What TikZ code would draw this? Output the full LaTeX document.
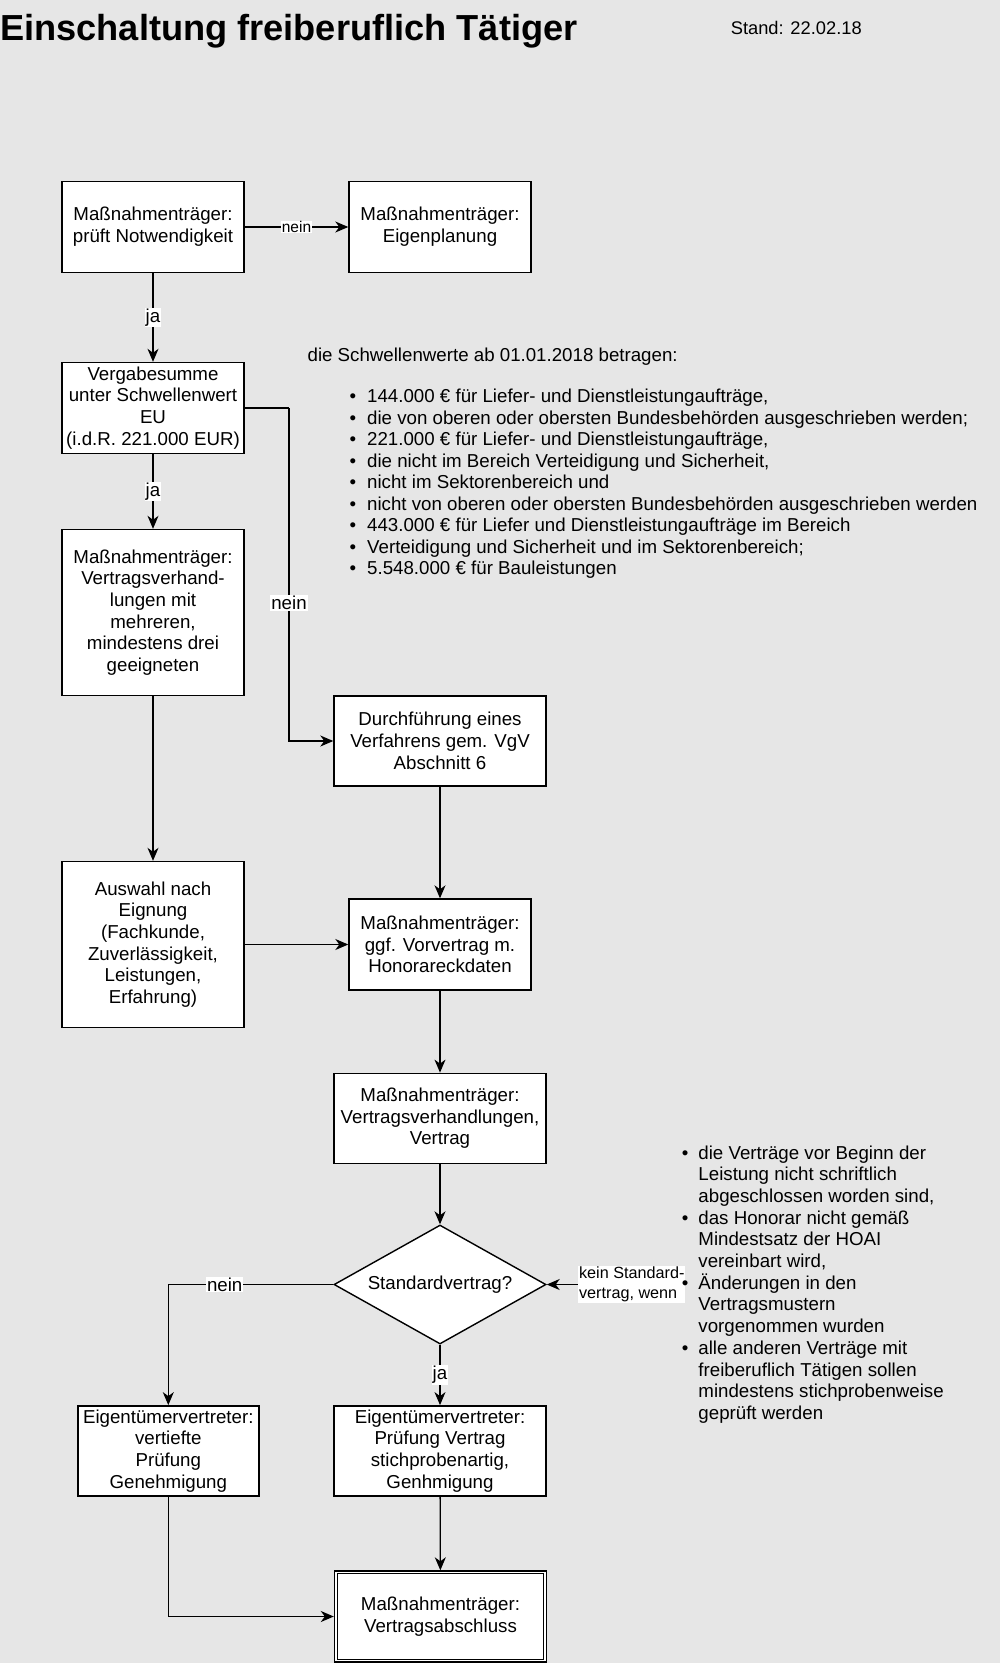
\documentclass[tikz,border=0pt]{standalone}
\usepackage{fontspec}
\setmainfont{Liberation Sans}
\usetikzlibrary{arrows.meta,shapes.geometric,calc}
\definecolor{bgcol}{RGB}{230,230,230}
\pgfdeclarelayer{bottom}
\pgfdeclarelayer{back}
\pgfsetlayers{bottom,back,main}
\newcommand\bodyfont{\fontsize{18.7}{21.7}\selectfont}
\newcommand\lblfont{\fontsize{15.5}{19.5}\selectfont}
\newcommand\bitemA[1]{\hbox{\makebox[17.5pt][l]{\textbullet}#1}}
\newcommand\bitemB[1]{\hbox{\makebox[16.5pt][l]{\textbullet}#1}}
\newcommand\citemB[1]{\hbox{\hspace*{16.5pt}#1}}
\begin{document}
\begin{tikzpicture}[x=1pt,y=-1pt,
  box/.style={draw, line width=1.4pt, fill=white, align=center, inner sep=2pt,
    font=\bodyfont, minimum width=182pt, minimum height=91pt},
  wbox/.style={box, minimum width=212pt, minimum height=90pt},
  arr/.style={line width=1.3pt, -{Stealth[length=13pt, width=11pt, inset=4pt]}},
  conn/.style={line width=1.3pt},
  lbl/.style={fill=white, inner sep=1pt, font=\bodyfont},
  lbls/.style={fill=white, inner sep=0.5pt, font=\lblfont, align=center},
  lblk/.style={fill=white, inner sep=1pt, font=\fontsize{16.2}{19.6}\selectfont, align=left},
  plain/.style={anchor=base west, inner sep=0pt, font=\bodyfont}]
\useasboundingbox (0,0) rectangle (1000,1663);
\begin{pgfonlayer}{bottom}
\fill[bgcol] (0,0) rectangle (1000,1663);
\end{pgfonlayer}

% header
\node[anchor=base west, inner sep=0pt, font=\fontsize{36.2}{40}\selectfont\bfseries] (title) at (0,40) {Einschaltung freiberuflich Tätiger};
\node[anchor=base west, inner sep=0pt, font=\fontsize{18.3}{21}\selectfont] (stand) at (730.6,34.5) {Stand: 22.02.18};

% boxes
\node[box] (b1) at (153,227) {Maßnahmenträger:\\prüft Notwendigkeit};
\node[box] (b2) at (440,227) {Maßnahmenträger:\\Eigenplanung};
\node[box] (b3) at (153,408) {Vergabesumme\\unter Schwellenwert\\EU\\(i.d.R. 221.000 EUR)};
\node[box, minimum height=166pt] (b4) at (153,612.5) {Maßnahmenträger:\\Vertragsverhand-\\lungen mit\\mehreren,\\mindestens drei\\geeigneten};
\node[wbox] (b5) at (440,741) {Durchführung eines\\Verfahrens gem. VgV\\Abschnitt 6};
\node[box, minimum height=166pt] (b6) at (153,944.5) {Auswahl nach\\Eignung\\(Fachkunde,\\Zuverlässigkeit,\\Leistungen,\\Erfahrung)};
\node[box] (b7) at (440,944.5) {Maßnahmenträger:\\ggf. Vorvertrag m.\\Honorareckdaten};
\node[wbox] (b8) at (440,1118.3) {Maßnahmenträger:\\Vertragsverhandlungen,\\Vertrag};
\node[diamond, draw, fill=white, line width=1.4pt, minimum width=212pt, minimum height=119pt,
  inner sep=0pt, shape aspect=1.78, font=\bodyfont] (d) at (440,1284.5) {Standardvertrag?};
\node[box, minimum width=181pt, minimum height=90pt] (b9) at (168.3,1450.8) {Eigentümervertreter:\\vertiefte\\Prüfung\\Genehmigung};
\node[wbox] (b10) at (440,1450.8) {Eigentümervertreter:\\Prüfung Vertrag\\stichprobenartig,\\Genhmigung};
\node[wbox, minimum height=91pt] (b11) at (440.5,1616.5) {Maßnahmenträger:\\Vertragsabschluss};
\draw[line width=1.2pt] ($(b11.north west)+(3.5,3.5)$) rectangle ($(b11.south east)+(-3.5,-3.5)$);

% text blocks
\node[plain] (list1h) at (307.4,361.7) {die Schwellenwerte ab 01.01.2018 betragen:};
\begin{scope}
\clip (0,0) rectangle (975,1663);
\node[plain] (list1) at (349.5,402.5) {\vtop{\baselineskip=21.55pt\lineskiplimit=-100pt
  \bitemA{144.000 € für Liefer- und Dienstleistungaufträge,}
  \bitemA{die von oberen oder obersten Bundesbehörden ausgeschrieben werden;}
  \bitemA{221.000 € für Liefer- und Dienstleistungaufträge,}
  \bitemA{die nicht im Bereich Verteidigung und Sicherheit,}
  \bitemA{nicht im Sektorenbereich und}
  \bitemA{nicht von oberen oder obersten Bundesbehörden ausgeschrieben werden}
  \bitemA{443.000 € für Liefer und Dienstleistungaufträge im Bereich}
  \bitemA{Verteidigung und Sicherheit und im Sektorenbereich;}
  \bitemA{5.548.000 € für Bauleistungen}}};
\end{scope}
\node[plain] (list2) at (681.75,1159) {\vtop{\baselineskip=21.7pt\lineskiplimit=-100pt
  \bitemB{die Verträge vor Beginn der}
  \citemB{Leistung nicht schriftlich}
  \citemB{abgeschlossen worden sind,}
  \bitemB{das Honorar nicht gemäß}
  \citemB{Mindestsatz der HOAI}
  \citemB{vereinbart wird,}
  \bitemB{Änderungen in den}
  \citemB{Vertragsmustern}
  \citemB{vorgenommen wurden}
  \bitemB{alle anderen Verträge mit}
  \citemB{freiberuflich Tätigen sollen}
  \citemB{mindestens stichprobenweise}
  \citemB{geprüft werden}}};

% helper coordinates
\coordinate (k1) at (289,408);
\coordinate (k2) at (289,741);
\coordinate (k3) at (168.3,1284.5);
\coordinate (k4) at (168.3,1616.5);

% connectors
\draw[arr] (b1) -- node[lbls] {nein} (b2);
\draw[arr] (b1) -- node[lbl] {ja} (b3);
\draw[arr] (b3) -- node[lbl] {ja} (b4);
\draw[conn] (b3.east) -- (k1);
\draw[arr] (k1) -- node[lbl, pos=0.585] {nein} (k2) -- (b5.west);
\draw[arr] (b4) -- (b6);
\draw[arr] (b5) -- (b7);
\draw[arr] (b6) -- (b7);
\draw[arr] (b7) -- (b8);
\draw[arr] (b8) -- (d);
\draw[arr] (d.west) -- node[lbl, pos=0.658] {nein} (k3) -- (b9.north);
\draw[arr] (d) -- node[lbl] {ja} (b10);
\draw[arr] (b10) -- (b11);
\draw[arr] (b9.south) -- (k4) -- (b11.west);
\begin{pgfonlayer}{back}
\draw[arr] (list2.west |- d.east) -- node[lblk, pos=0.37] {kein Standard-\\vertrag, wenn} (d.east);
\end{pgfonlayer}
\end{tikzpicture}
\end{document}
